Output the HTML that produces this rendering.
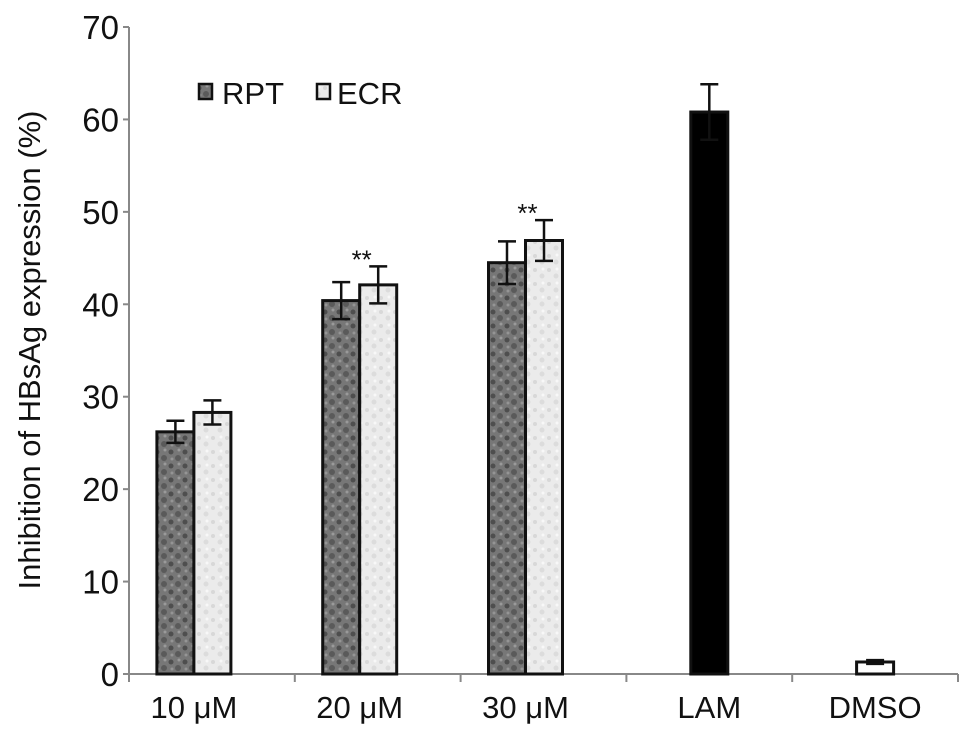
<!DOCTYPE html>
<html><head><meta charset="utf-8"><style>
body{margin:0;background:#fff}
svg text{font-family:"Liberation Sans",sans-serif;fill:#111}
</style></head><body>
<svg id="chart" width="969" height="743" viewBox="0 0 969 743" xmlns="http://www.w3.org/2000/svg">
<defs>
<pattern id="pDark" width="14" height="14" patternUnits="userSpaceOnUse">
<rect width="14" height="14" fill="#777"/>
<circle cx="3" cy="4" r="2.5" fill="#4e4e4e"/><circle cx="10" cy="10" r="3" fill="#5a5a5a"/><circle cx="11" cy="2" r="1.5" fill="#9a9a9a"/><circle cx="4" cy="11" r="1.5" fill="#959595"/>
</pattern>
<pattern id="pLight" width="14" height="14" patternUnits="userSpaceOnUse">
<rect width="14" height="14" fill="#ebebeb"/>
<circle cx="3" cy="4" r="2" fill="#d8d8d8"/><circle cx="10" cy="10" r="2.5" fill="#dcdcdc"/><circle cx="11" cy="3" r="1.5" fill="#f8f8f8"/>
</pattern>
</defs>
<g id="axes"></g>
<g id="bars"></g>
<text transform="translate(40,350) rotate(-90)" text-anchor="middle" font-size="31">Inhibition of HBsAg expression (%)</text>
<g>
<rect x="199" y="84" width="13" height="15" fill="url(#pDark)" stroke="#111" stroke-width="2.5"/>
<text x="222" y="104" font-size="31">RPT</text>
<rect x="317" y="84" width="13" height="15" fill="url(#pLight)" stroke="#111" stroke-width="2.5"/>
<text x="337" y="104" font-size="31">ECR</text>
</g>
</svg>
<script>
const categories = ["10 \u03bcM","20 \u03bcM","30 \u03bcM","LAM","DMSO"];
const rptValues = [26.2, 40.4, 44.5, null, null];
const rptErrors = [1.2, 2.0, 2.3, null, null];
const ecrValues = [28.3, 42.1, 46.9, null, null];
const ecrErrors = [1.3, 2.0, 2.2, null, null];
const ctrlValues = [null, null, null, 60.8, 1.3];
const ctrlErrors = [null, null, null, 3.0, 0.2];
const ctrlFills = ["", "", "", "black", "white"];
const significance = ["", "**", "**", "", ""];
const yTicks = [0,10,20,30,40,50,60,70];

const NS = "http://www.w3.org/2000/svg";
const X0 = 129, X1 = 958, Y0 = 674, Y1 = 27, YMAX = 70;
const catW = (X1 - X0) / categories.length;
const barW = 37;
function y(v){ return Y0 - v / YMAX * (Y0 - Y1); }
function xc(i){ return X0 + catW * (i + 0.5); }
function mk(tag, attrs, parent){ const e = document.createElementNS(NS, tag); for (const k in attrs) e.setAttribute(k, attrs[k]); parent.appendChild(e); return e; }
const axes = document.getElementById('axes');
const bars = document.getElementById('bars');

let l = mk('line', {x1:X0, y1:Y1, x2:X0, y2:Y0, stroke:'#888', 'stroke-width':2}, axes);


l = mk('line', {x1:X0, y1:Y0, x2:X1, y2:Y0, stroke:'#888', 'stroke-width':2}, axes);


yTicks.forEach(t => {
  const tk = mk('line', {x1:X0-6, y1:y(t), x2:X0, y2:y(t), stroke:'#888', 'stroke-width':2}, axes);
  
  
  const tx = mk('text', {x:X0-10, y:y(t)+12, 'text-anchor':'end', 'font-size':33}, axes);
  tx.textContent = t;
  
  
});
for (let i = 0; i <= categories.length; i++) {
  const xx = X0 + catW * i;
  const tk = mk('line', {x1:xx, y1:Y0, x2:xx, y2:Y0+8, stroke:'#888', 'stroke-width':2}, axes);
  
  
}
categories.forEach((c, i) => {
  const tx = mk('text', {x:xc(i) - (i < 3 ? 18 : 0), y:Y0+44, 'text-anchor':'middle', 'font-size':31}, axes);
  tx.textContent = c;
  
  
});
function bar(left, v, err, fill, name){
  const r = mk('rect', {x:left, y:y(v), width:barW, height:Y0 - y(v), fill:fill, stroke:'#111', 'stroke-width':3}, bars);
  
  
  const cx = left + barW/2;
  const g = mk('g', {stroke:'#111', 'stroke-width':2.5}, bars);
  
  
  mk('line', {x1:cx, y1:y(v+err), x2:cx, y2:y(v-err)}, g);
  mk('line', {x1:cx-9, y1:y(v+err), x2:cx+9, y2:y(v+err)}, g);
  mk('line', {x1:cx-9, y1:y(v-err), x2:cx+9, y2:y(v-err)}, g);
}
categories.forEach((c, i) => {
  const cx = xc(i);
  if (rptValues[i] != null) bar(cx - 18 - barW, rptValues[i], rptErrors[i], 'url(#pDark)', 'bar-rpt-' + i);
  if (ecrValues[i] != null) bar(cx - 18, ecrValues[i], ecrErrors[i], 'url(#pLight)', 'bar-ecr-' + i);
  if (ctrlValues[i] != null) bar(cx - barW/2, ctrlValues[i], ctrlErrors[i], ctrlFills[i], 'bar-control-' + i);
  if (significance[i]) {
    const top = Math.max(rptValues[i] + rptErrors[i], ecrValues[i] + ecrErrors[i]);
    const s = mk('text', {x:cx - 16, y:y(top) + 2, 'text-anchor':'middle', 'font-size':26}, bars);
    s.textContent = significance[i];
    
    
  }
});
</script>
</body></html>
